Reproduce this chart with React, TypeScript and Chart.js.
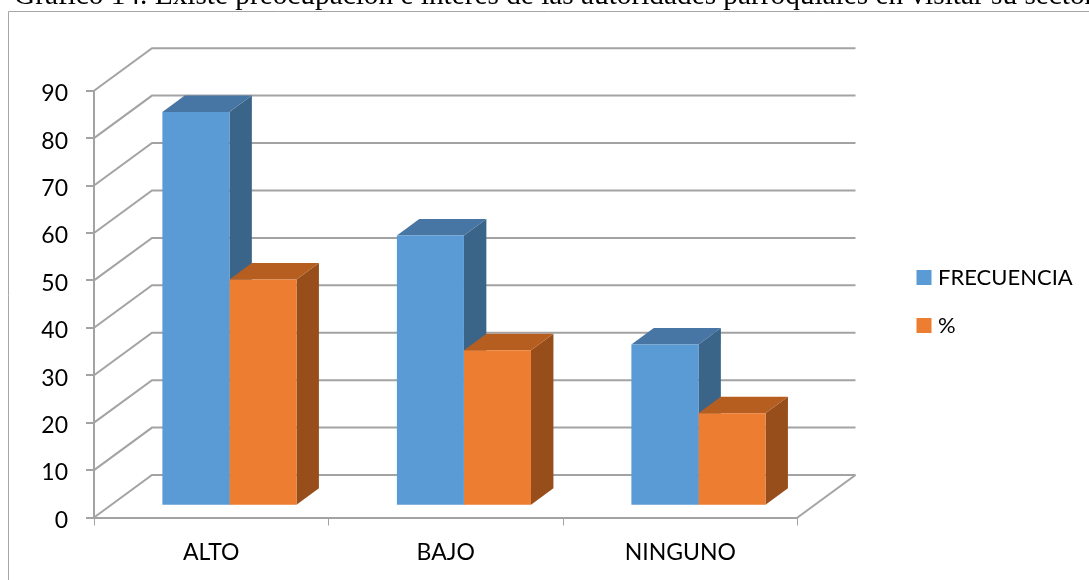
import React, { useEffect, useRef } from "react";
import { Chart, registerables } from "chart.js";

Chart.register(...registerables);

const categories = ["ALTO", "BAJO", "NINGUNO"];
const frecuencia = [83, 57, 34];
const porcentaje = [47.7, 32.8, 19.5];
const TITLE = "Gráfico 14. Existe preocupación e interés de las autoridades parroquiales en visitar su sector";

const GRID = "#a3a3a3";
const WALL_DX = 58, WALL_DY = 42.5;
const BAR_DX = 18.2, BAR_DY = 11.8;
const DEPTH_DX = 22.4, DEPTH_DY = 16.5;
const faces = [
  { top: "#4776A4", side: "#3A6488" },
  { top: "#B65E20", side: "#974E1B" },
];

const threeD = {
  id: "threeD",
  beforeDraw(chart: any) {
    const c = chart.ctx;
    c.save();
    c.fillStyle = "#fff";
    c.fillRect(0, 0, chart.width, chart.height);
    c.strokeStyle = "#a6a6a6";
    c.lineWidth = 1;
    c.beginPath();
    c.moveTo(8.5, 580);
    c.lineTo(8.5, 11.5);
    c.lineTo(1089, 11.5);
    c.stroke();
    c.restore();
    // nudge the value labels down onto the reference's optical centre
    chart.scales.y.getLabelItems().forEach((it: any) => {
      if (!it._nudged) {
        it._nudged = true;
        it.textOffset += 3;
      }
    });
  },
  beforeLayout(chart: any) {
    // the legend sits in the reserved right margin, so it must not shrink the plot
    const l = chart.legend;
    if (!l || l._patched) return;
    l._patched = true;
    const fit = l.fit.bind(l);
    l.fit = () => {
      fit();
      l._w = l.width;
      l._h = l.height;
      l.width = 0;
    };
  },
  afterLayout(chart: any) {
    const l = chart.legend;
    if (!l) return;
    l.width = l._w;
    l.left = 895; l.right = 895 + l._w;
    l.top = 240.5; l.bottom = 240.5 + l._h;
  },
  beforeDatasetsDraw(chart: any) {
    const c = chart.ctx;
    const { left, right, bottom } = chart.chartArea;
    const y = chart.scales.y;
    c.save();
    c.strokeStyle = GRID;
    c.lineWidth = 2;
    y.ticks.forEach((t: any) => {
      const py = y.getPixelForValue(t.value);
      c.beginPath();
      c.moveTo(left, py);
      c.lineTo(left + WALL_DX, py - WALL_DY);
      c.lineTo(right + WALL_DX, py - WALL_DY);
      c.stroke();
    });
    c.beginPath();
    c.moveTo(right, bottom);
    c.lineTo(right + WALL_DX, bottom - WALL_DY);
    c.stroke();
    c.restore();
    c.save();
    c.translate(BAR_DX, -BAR_DY);
    // depth faces, first series behind the second; the library then paints the fronts
    [0, 1].forEach((i) => {
      const f = faces[i];
      chart.getDatasetMeta(i).data.forEach((bar: any) => {
        const { x, y: top, base, width } = bar.getProps(["x", "y", "base", "width"], true);
        const l = x - width / 2, r = x + width / 2;
        c.fillStyle = f.side;
        c.beginPath();
        c.moveTo(r, top);
        c.lineTo(r + DEPTH_DX, top - DEPTH_DY);
        c.lineTo(r + DEPTH_DX, base - DEPTH_DY);
        c.lineTo(r, base);
        c.closePath();
        c.fill();
        c.fillStyle = f.top;
        c.beginPath();
        c.moveTo(l, top);
        c.lineTo(l + DEPTH_DX, top - DEPTH_DY);
        c.lineTo(r + DEPTH_DX, top - DEPTH_DY);
        c.lineTo(r, top);
        c.closePath();
        c.fill();
      });
    });
  },
  afterDatasetsDraw(chart: any) {
    chart.ctx.restore();
  },
};

export default function App() {
  const ref = useRef<HTMLCanvasElement>(null);
  useEffect(() => {
    const font = { family: "Lato", size: 23 };
    const chart = new Chart(ref.current!, {
      type: "bar",
      data: {
        labels: categories,
        datasets: [
          { label: "FRECUENCIA", data: frecuencia, backgroundColor: "#5B9BD5", clip: false },
          { label: "%", data: porcentaje, backgroundColor: "#ED7D31", clip: false },
        ],
      } as any,
      options: {
        responsive: false,
        animation: false,
        events: [],
        layout: { padding: { left: 0, right: 291.5, top: 90.7, bottom: 0 } },
        datasets: { bar: { categoryPercentage: 0.572, barPercentage: 1 } },
        scales: {
          x: {
            grid: { drawOnChartArea: false, color: GRID, tickLength: 8, lineWidth: 1, offset: true },
            border: { color: GRID, width: 2 },
            ticks: { font, color: "#000", padding: 13, maxRotation: 0, autoSkip: false },
            afterFit: (s: any) => { s.height = 62.5; },
          },
          y: {
            min: 0,
            max: 90,
            grid: { drawOnChartArea: false, color: GRID, tickLength: 8, lineWidth: 2 },
            border: { color: GRID, width: 2 },
            ticks: { font, color: "#000", stepSize: 10, padding: 18 },
            afterFit: (s: any) => { s.width = 94; },
          },
        },
        plugins: {
          title: { display: false },
          tooltip: { enabled: false },
          legend: {
            display: true,
            position: "right",
            align: "start",
            labels: {
              font: { family: "Lato", size: 22 },
              color: "#000",
              boxWidth: 6,
              boxHeight: 6,
              padding: 26,
              generateLabels: (ch: any) =>
                ch.data.datasets.map((d: any, i: number) => ({
                  text: d.label,
                  fillStyle: d.backgroundColor,
                  strokeStyle: d.backgroundColor,
                  lineWidth: 9,
                  datasetIndex: i,
                })),
            },
          },
        },
      } as any,
      plugins: [threeD],
    });
    return () => chart.destroy();
  }, []);
  return (
    <div style={{ position: "absolute", left: 0, top: 0, width: 1089, height: 580, overflow: "hidden" }}>
      <canvas ref={ref} width={1089} height={580} style={{ position: "absolute", left: 0, top: 0, display: "block" }} />
      <div
        style={{
          position: "absolute",
          left: 14,
          top: -18,
          whiteSpace: "nowrap",
          fontFamily: "'Liberation Serif'",
          fontSize: 29.3,
          lineHeight: "24px",
          color: "#000",
        }}
      >
        {TITLE}
      </div>
    </div>
  );
}
